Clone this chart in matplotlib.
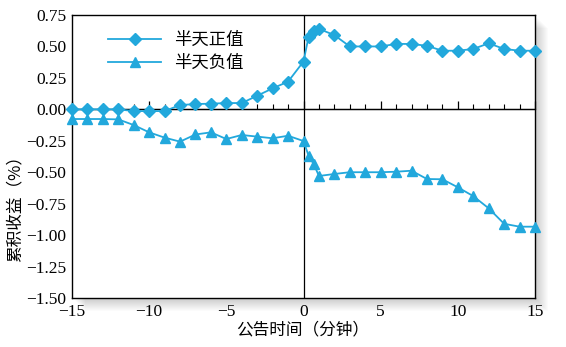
import numpy as np
import matplotlib.pyplot as plt
from matplotlib.patches import Rectangle
from matplotlib.ticker import MultipleLocator

plt.rcParams['font.family'] = ['Liberation Serif', 'Noto Sans CJK SC']
plt.rcParams['axes.unicode_minus'] = True

# half-day positive / negative cumulative returns (%)
pos_x = [-15, -14, -13, -12, -11, -10, -9, -8, -7, -6, -5, -4, -3, -2, -1,
         0, 0.33, 0.67, 1, 2, 3, 4, 5, 6, 7, 8, 9, 10, 11, 12, 13, 14, 15]
pos_y = [0.0, 0.0, 0.0, 0.0, -0.014, -0.014, -0.014, 0.034, 0.042, 0.045, 0.05, 0.05,
         0.108, 0.167, 0.22, 0.38, 0.577, 0.62, 0.64, 0.59, 0.50, 0.50, 0.50, 0.52,
         0.52, 0.505, 0.466, 0.466, 0.48, 0.525, 0.48, 0.466, 0.466]
neg_x = pos_x
neg_y = [-0.077, -0.077, -0.077, -0.08, -0.125, -0.183, -0.225, -0.257, -0.20, -0.183,
         -0.236, -0.204, -0.217, -0.23, -0.21, -0.252, -0.369, -0.437, -0.53, -0.514,
         -0.50, -0.50, -0.50, -0.496, -0.488, -0.554, -0.556, -0.62, -0.69, -0.787,
         -0.91, -0.933, -0.933]
labels = ['半天正值', '半天负值']
x_ticks = [-15, -10, -5, 0, 5, 10, 15]
y_ticks = [0.75, 0.5, 0.25, 0.0, -0.25, -0.5, -0.75, -1.0, -1.25, -1.5]
ylim = (-1.5, 0.75)

color = '#22a8dc'
pos = [72 / 566, 1 - 298 / 347, (535 - 72) / 566, (298 - 15) / 347]

fig = plt.figure(figsize=(5.66, 3.47), dpi=100)

# soft drop shadow behind the plot box
for i in range(1, 14):
    fig.patches.append(Rectangle((pos[0] + i / 566, pos[1] - i / 347), pos[2], pos[3],
                                 transform=fig.transFigure, facecolor='black',
                                 alpha=0.016, edgecolor='none', zorder=-5))

ax = fig.add_axes(pos)
ax.set_facecolor('white')
ax.plot(pos_x, pos_y, color=color, lw=1.3, marker='D', ms=6.3, label=labels[0], clip_on=False, zorder=3)
ax.plot(neg_x, neg_y, color=color, lw=1.3, marker='^', ms=6.8, label=labels[1], clip_on=False, zorder=3)
ax.axvline(0, color='black', lw=0.9, zorder=2)
ax.axhline(0, color='black', lw=0.9, zorder=2)
ax.set_xlim(-15, 15)
ax.set_ylim(*ylim)
ax.set_xticks(x_ticks)
ax.set_yticks(y_ticks)
ax.set_yticklabels([f'{v:.2f}'.replace('-', '\u2212') for v in y_ticks])
ax.set_xticklabels([str(v).replace('-', '\u2212') for v in x_ticks])
ax.tick_params(axis='both', length=0, labelsize=12.5, pad=4)
for s in ax.spines.values():
    s.set_linewidth(1.0)

# ticks drawn on the zero line, pointing up
sec = ax.secondary_xaxis((0 - ylim[0]) / (ylim[1] - ylim[0]))
sec.set_xticks(x_ticks)
sec.xaxis.set_minor_locator(MultipleLocator(1))
sec.tick_params(axis='x', which='both', labeltop=False, labelbottom=False)
sec.tick_params(axis='x', which='major', direction='out', length=6, width=0.9)
sec.tick_params(axis='x', which='minor', direction='out', length=3.5, width=0.8)
for s in sec.spines.values():
    s.set_linewidth(0.9)

ax.legend(loc='upper left', bbox_to_anchor=(0.045, 1.0), frameon=False,
          prop={'family': 'Noto Sans CJK SC', 'size': 12.5}, handlelength=3,
          handletextpad=0.8, labelspacing=0.3)
fig.text(15 / 566, 1 - 205 / 347, '累积收益（%）', rotation=90, ha='center', va='center',
         fontsize=12, family='Noto Sans CJK SC')
fig.text(303 / 566, 1 - 330 / 347, '公告时间（分钟）', ha='center', va='center',
         fontsize=12, family='Noto Sans CJK SC')

fig.savefig('out.png', dpi=100)
